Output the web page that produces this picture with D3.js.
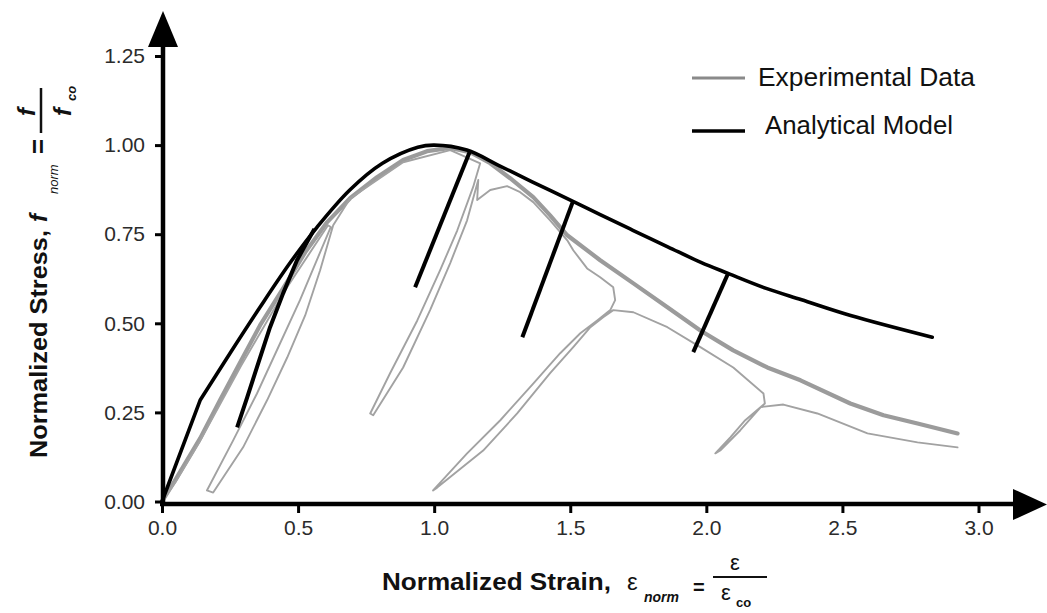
<!DOCTYPE html>
<html>
<head>
<meta charset="utf-8">
<script src="https://cdn.jsdelivr.net/npm/d3@7"></script>
<style>
  html, body { margin: 0; padding: 0; background: #fff; }
  svg { display: block; }
  text { font-family: "Liberation Sans", Arial, sans-serif; }
</style>
</head>
<body>
<svg id="chart" width="1047" height="613"></svg>
<script>
// ---- Data: normalized strain (x) vs normalized stress (y) ----

// Analytical model: initial linear branch, then the smooth envelope
const modelInitial = [[0,0],[0.14,0.284]];
const modelEnvelope = [[0.14,0.284],[0.25,0.416],[0.36,0.545],[0.47,0.669],
  [0.57,0.770],[0.69,0.874],[0.81,0.949],[0.94,0.994],[1.0,1.0],[1.12,0.986],[1.24,0.942],
  [1.36,0.897],[1.51,0.842],[1.61,0.805],[1.73,0.761],[1.86,0.714],[1.98,0.671],[2.08,0.640],
  [2.22,0.598],[2.35,0.566],[2.53,0.522],[2.83,0.461]];

// Analytical model unloading branches
const modelUnload1 = [[0.56,0.765],[0.496,0.677],[0.445,0.584],[0.397,0.489],[0.349,0.377],[0.313,0.292],[0.276,0.208]];
const modelUnload2 = [[1.13,0.98],[0.93,0.601]];
const modelUnload3 = [[1.51,0.842],[1.324,0.461]];
const modelUnload4 = [[2.08,0.640],[1.952,0.419]];

// Experimental data: monotonic specimen
const testMonotonic = [[0,0],[0.048,0.059],[0.14,0.177],[0.213,0.284],[0.287,0.39],[0.36,0.494],
  [0.445,0.598],[0.526,0.699],[0.607,0.784],[0.691,0.851],[0.79,0.91],[0.886,0.958],[0.974,0.983],
  [1.059,0.992],[1.132,0.98],[1.206,0.949],[1.279,0.907],[1.364,0.854],[1.426,0.803],[1.489,0.747],
  [1.61,0.677],[1.732,0.612],[1.857,0.545],[1.978,0.48],[2.099,0.424],[2.224,0.376],[2.346,0.34],
  [2.529,0.275],[2.651,0.242],[2.776,0.219],[2.923,0.191]];

// Experimental data: cyclic specimen (loading, unloading and reloading loops)
const testCyclic = [
  [0,0],[0.05,0.055],[0.14,0.17],[0.29,0.38],[0.45,0.59],[0.61,0.775],
  [0.62,0.77],[0.507,0.565],[0.434,0.444],[0.349,0.303],[0.261,0.171],[0.165,0.031],
  [0.188,0.025],[0.298,0.152],[0.386,0.284],[0.46,0.404],[0.526,0.522],[0.581,0.649],[0.629,0.775],
  [0.691,0.85],[0.886,0.952],[1.059,0.986],[1.169,0.949],
  [1.143,0.882],[1.085,0.761],[1.022,0.649],[0.938,0.508],[0.838,0.36],[0.765,0.247],
  [0.776,0.242],[0.886,0.376],[0.985,0.537],[1.059,0.669],[1.121,0.789],[1.162,0.902],[1.158,0.846],
  [1.206,0.874],[1.268,0.885],[1.316,0.868],[1.364,0.84],[1.426,0.789],[1.489,0.733],[1.511,0.705],
  [1.562,0.654],[1.61,0.629],[1.658,0.601],[1.665,0.565],[1.647,0.537],
  [1.599,0.508],[1.537,0.472],[1.463,0.416],[1.364,0.331],[1.243,0.228],[1.121,0.135],[0.996,0.031],
  [1.011,0.039],[1.18,0.143],[1.305,0.247],[1.426,0.36],[1.511,0.433],[1.574,0.489],[1.621,0.517],[1.658,0.537],
  [1.732,0.531],[1.857,0.489],[1.978,0.433],[2.099,0.376],[2.21,0.303],[2.215,0.275],
  [2.143,0.228],[2.088,0.18],[2.033,0.135],[2.051,0.143],[2.125,0.2],[2.2,0.265],
  [2.283,0.272],[2.408,0.247],[2.592,0.191],[2.776,0.166],[2.923,0.152]];

// Axis ticks and legend
const xTicks = [0, 0.5, 1.0, 1.5, 2.0, 2.5, 3.0];
const xTickLabels = ["0.0", "0.5", "1.0", "1.5", "2.0", "2.5", "3.0"];
const yTicks = [0, 0.25, 0.5, 0.75, 1.0, 1.25];
const yTickLabels = ["0.00", "0.25", "0.50", "0.75", "1.00", "1.25"];
const legendLabels = ["Experimental Data", "Analytical Model"];

// ---- Drawing ----
const svg = d3.select("#chart");
const x = d3.scaleLinear().domain([0, 3]).range([162, 978.5]);
const y = d3.scaleLinear().domain([0, 1.25]).range([501.5, 56]);

const grayColor = "#9b9b9b";
const lineGen = d3.line().x(d => x(d[0])).y(d => y(d[1]));
const smoothGen = d3.line().x(d => x(d[0])).y(d => y(d[1])).curve(d3.curveCatmullRom.alpha(0.5));

// Experimental curves
svg.append("path").attr("d", lineGen(testMonotonic))
  .attr("fill", "none").attr("stroke", grayColor).attr("stroke-width", 4.2)
  .attr("stroke-linejoin", "round").attr("stroke-linecap", "round");
svg.append("path").attr("d", lineGen(testCyclic))
  .attr("fill", "none").attr("stroke", "#a2a2a2").attr("stroke-width", 1.9)
  .attr("stroke-linejoin", "round").attr("stroke-linecap", "round");

// Analytical model
svg.append("path").attr("d", lineGen(modelInitial) + smoothGen(modelEnvelope).replace(/^M/, "L"))
  .attr("fill", "none").attr("stroke", "#000").attr("stroke-width", 3.6)
  .attr("stroke-linejoin", "round").attr("stroke-linecap", "round");
[modelUnload1, modelUnload2, modelUnload3, modelUnload4].forEach(seg => {
  svg.append("path").attr("d", lineGen(seg))
    .attr("fill", "none").attr("stroke", "#000").attr("stroke-width", 4)
    .attr("stroke-linejoin", "round");
});

// Axes with ticks
const yAxis = d3.axisLeft(y).tickValues(yTicks)
  .tickFormat((d, i) => yTickLabels[i]).tickSize(8).tickPadding(10);
const gy = svg.append("g").attr("transform", "translate(163,0)").call(yAxis);
const xAxis = d3.axisBottom(x).tickValues(xTicks)
  .tickFormat((d, i) => xTickLabels[i]).tickSize(9).tickPadding(7);
const gx = svg.append("g").attr("transform", "translate(0,504)").call(xAxis);
[gx, gy].forEach(g => {
  g.select(".domain").remove();
  g.selectAll(".tick line").attr("stroke", "#000").attr("stroke-width", 3);
  g.selectAll(".tick text").attr("fill", "#2b2b2b")
    .style("font-size", "21px").style("font-family", "'Liberation Sans', Arial, sans-serif");
});

// Axis lines with arrow heads
svg.append("line").attr("x1", 163).attr("x2", 163).attr("y1", 506).attr("y2", 44)
  .attr("stroke", "#000").attr("stroke-width", 4.5);
svg.append("path").attr("d", "M148,47 L178,47 L163,11 Z").attr("fill", "#000");
svg.append("line").attr("x1", 160).attr("x2", 1016).attr("y1", 504).attr("y2", 504)
  .attr("stroke", "#000").attr("stroke-width", 4.5);
svg.append("path").attr("d", "M1013,489 L1013,520 L1047,504.5 Z").attr("fill", "#000");

// Legend
const legend = svg.append("g");
legend.append("line").attr("x1", 692).attr("x2", 745).attr("y1", 78).attr("y2", 78)
  .attr("stroke", "#8a8a8a").attr("stroke-width", 3);
legend.append("text").attr("x", 758).attr("y", 86).text(legendLabels[0])
  .style("font-size", "25px").attr("fill", "#111")
  .attr("textLength", 217).attr("lengthAdjust", "spacingAndGlyphs");
legend.append("line").attr("x1", 692).attr("x2", 745).attr("y1", 131).attr("y2", 131)
  .attr("stroke", "#000").attr("stroke-width", 3.5);
legend.append("text").attr("x", 765).attr("y", 134).text(legendLabels[1])
  .style("font-size", "25px").attr("fill", "#111")
  .attr("textLength", 188).attr("lengthAdjust", "spacingAndGlyphs");

// X axis title: Normalized Strain, ε_norm = ε / ε_co
const xt = svg.append("g").attr("fill", "#111");
xt.append("text").attr("x", 382).attr("y", 590).text("Normalized Strain,")
  .style("font-size", "24px").style("font-weight", "bold")
  .attr("textLength", 229).attr("lengthAdjust", "spacingAndGlyphs");
xt.append("text").attr("x", 627).attr("y", 590).text("ε").style("font-size", "24px");
xt.append("text").attr("x", 644).attr("y", 602).text("norm")
  .style("font-size", "14px").style("font-style", "italic").style("font-weight", "bold");
xt.append("text").attr("x", 693).attr("y", 594).text("=")
  .style("font-size", "20px").style("font-weight", "bold");
xt.append("line").attr("x1", 713).attr("x2", 767).attr("y1", 577).attr("y2", 577)
  .attr("stroke", "#111").attr("stroke-width", 2);
xt.append("text").attr("x", 730).attr("y", 570).text("ε").style("font-size", "22px");
xt.append("text").attr("x", 721).attr("y", 600).text("ε").style("font-size", "22px");
xt.append("text").attr("x", 736).attr("y", 607).text("co")
  .style("font-size", "13px").style("font-weight", "bold");

// Y axis title: Normalized Stress, f_norm = f / f_co (rotated)
const yt = svg.append("g").attr("transform", "translate(47,458) rotate(-90)").attr("fill", "#111");
yt.append("text").attr("x", 0).attr("y", 0).text("Normalized Stress,")
  .style("font-size", "24px").style("font-weight", "bold")
  .attr("textLength", 228).attr("lengthAdjust", "spacingAndGlyphs");
yt.append("text").attr("x", 236).attr("y", 0).text("f")
  .style("font-size", "24px").style("font-weight", "bold").style("font-style", "italic");
yt.append("text").attr("x", 264).attr("y", 11).text("norm")
  .style("font-size", "13px").style("font-style", "italic");
yt.append("text").attr("x", 304).attr("y", 0).text("=")
  .style("font-size", "26px").style("font-weight", "bold");
yt.append("line").attr("x1", 325).attr("x2", 370).attr("y1", -6).attr("y2", -6)
  .attr("stroke", "#111").attr("stroke-width", 2.5);
yt.append("text").attr("x", 342).attr("y", -12).text("f")
  .style("font-size", "24px").style("font-weight", "bold").style("font-style", "italic");
yt.append("text").attr("x", 342).attr("y", 24).text("f")
  .style("font-size", "24px").style("font-weight", "bold").style("font-style", "italic");
yt.append("text").attr("x", 357).attr("y", 29).text("co")
  .style("font-size", "13px").style("font-weight", "bold").style("font-style", "italic");
</script>
</body>
</html>
